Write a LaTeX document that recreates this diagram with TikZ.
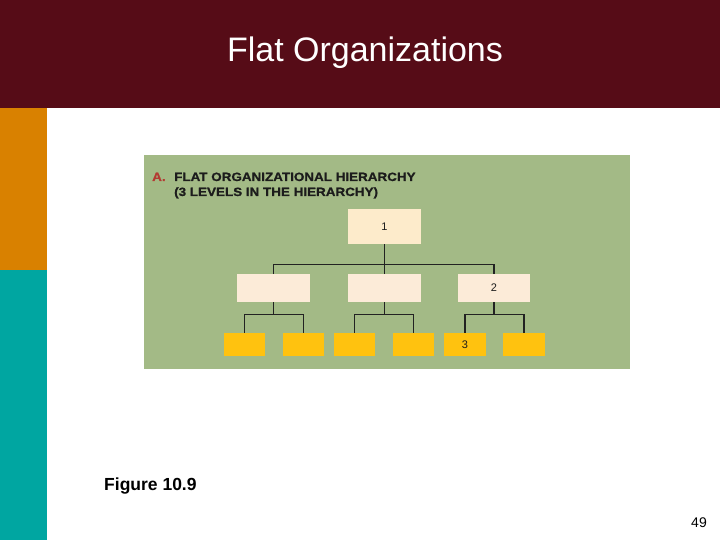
\documentclass[tikz,border=0pt]{standalone}
\usepackage{fontspec}
\setmainfont{Liberation Sans}
\newfontfamily\widefont[FakeStretch=1.12,BoldFeatures={FakeBold=1}]{Liberation Sans}

\definecolor{barmaroon}{HTML}{560C17}
\definecolor{barorange}{HTML}{D98100}
\definecolor{barteal}{HTML}{00A6A1}
\definecolor{panelgreen}{HTML}{A3BA86}
\definecolor{chiefcream}{HTML}{FDEBCB}
\definecolor{midcream}{HTML}{FCEBD8}
\definecolor{lowgold}{HTML}{FFC20F}
\definecolor{hdrred}{HTML}{B33A32}
\definecolor{hdrdark}{HTML}{1C1C1C}
\definecolor{linkdark}{HTML}{222222}

\begin{document}
\begin{tikzpicture}[x=1pt,y=-1pt,
  unit/.style={inner sep=0pt,text=hdrdark,font=\fontsize{11}{13}\selectfont},
  chief/.style={unit,fill=chiefcream,minimum width=73pt,minimum height=35pt},
  mid/.style={unit,fill=midcream,minimum width=73pt,minimum height=28pt},
  low/.style={unit,fill=lowgold,minimum width=41pt,minimum height=23pt},
  link/.style={draw=linkdark,line width=1.2pt},
  hdr/.style={anchor=base west,inner sep=0pt,font=\widefont\bfseries\fontsize{12}{14}\selectfont}]
\useasboundingbox (0,0) rectangle (720,540);

% slide frame
\fill[barmaroon] (0,0) rectangle (720,108);
\fill[barorange] (0,108) rectangle (47,270);
\fill[barteal] (0,270) rectangle (47,540);
\node[anchor=base,inner sep=0pt,text=white,font=\fontsize{34}{40}\selectfont] (title) at (365,62) {Flat Organizations};

% panel
\fill[panelgreen] (144,155) rectangle (630,369);
\node[hdr,text=hdrred] (hdrA) at (152,181) {A.};
\node[hdr,text=hdrdark] (hdr1) at (174,181) {FLAT ORGANIZATIONAL HIERARCHY};
\node[hdr,text=hdrdark] (hdr2) at (174,196) {(3 LEVELS IN THE HIERARCHY)};

% level 1
\node[chief] (one) at (384.5,226.5) {1};

% level 2
\node[mid] (midA) at (273.5,288) {};
\node[mid] (midB) at (384.5,288) {};
\node[mid,minimum width=72pt] (midC) at (494,288) {2};

% level 3
\node[low] (lowA1) at (244.5,344.5) {};
\node[low] (lowA2) at (303.5,344.5) {};
\node[low] (lowB1) at (354.5,344.5) {};
\node[low] (lowB2) at (413.5,344.5) {};
\node[low,minimum width=42pt] (lowC1) at (465,344.5) {3};
\node[low,minimum width=42pt] (lowC2) at (524,344.5) {};

% connectors
\draw[link] (one.south) -- ++(0,20) coordinate (bus1) -| (midA.north);
\draw[link] (bus1) -| (midC.north);
\draw[link] (bus1) -- (midB.north);
\foreach \g in {A,B,C} {
  \draw[link] (mid\g.south) -- ++(0,12) coordinate (bus\g) -| (low\g1.north);
  \draw[link] (bus\g) -| (low\g2.north);
}

% captions
\node[anchor=base west,inner sep=0pt,font=\bfseries\fontsize{17.5}{20}\selectfont] (fig) at (104,490) {Figure 10.9};
\node[anchor=base east,inner sep=0pt,font=\fontsize{14}{16}\selectfont] (page) at (707,527) {49};
\end{tikzpicture}
\end{document}
